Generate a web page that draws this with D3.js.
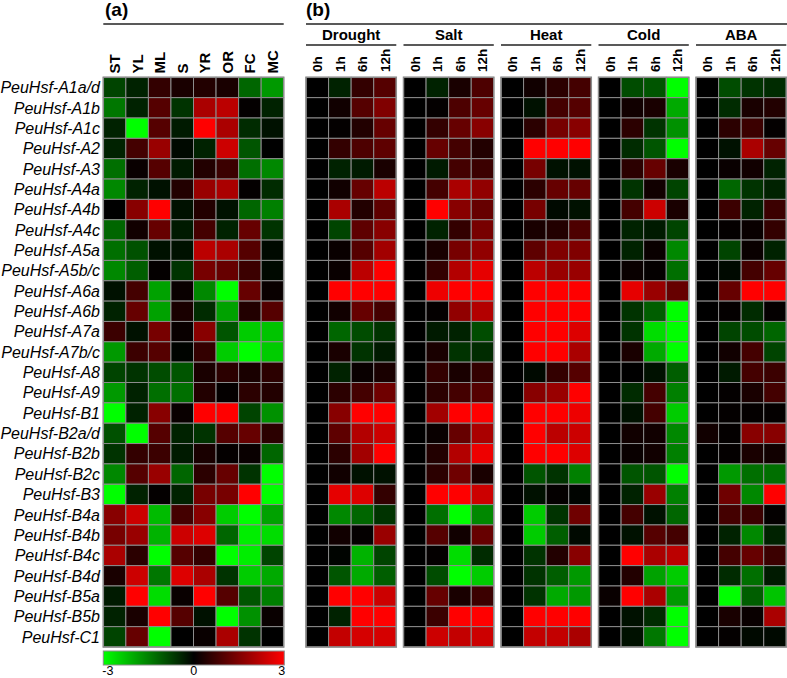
<!DOCTYPE html>
<html>
<head>
<meta charset="utf-8">
<script src="https://cdn.jsdelivr.net/npm/d3@7"></script>
<style>
  html, body { margin: 0; padding: 0; background: #fff; }
  svg { display: block; font-family: "Liberation Sans", Arial, sans-serif; }
</style>
</head>
<body>
<svg id="chart" width="787" height="678"></svg>
<script>
// ---------- DATA ----------
const genes = ["PeuHsf-A1a/d","PeuHsf-A1b","PeuHsf-A1c","PeuHsf-A2","PeuHsf-A3","PeuHsf-A4a","PeuHsf-A4b",
  "PeuHsf-A4c","PeuHsf-A5a","PeuHsf-A5b/c","PeuHsf-A6a","PeuHsf-A6b","PeuHsf-A7a","PeuHsf-A7b/c",
  "PeuHsf-A8","PeuHsf-A9","PeuHsf-B1","PeuHsf-B2a/d","PeuHsf-B2b","PeuHsf-B2c","PeuHsf-B3",
  "PeuHsf-B4a","PeuHsf-B4b","PeuHsf-B4c","PeuHsf-B4d","PeuHsf-B5a","PeuHsf-B5b","PeuHsf-C1"];

const tissues = ["ST","YL","ML","S","YR","OR","FC","MC"];

// panel (a): tissue expression, one row per gene (log2 scale, -3..3)
const tissueValues = [
  [-0.8,-0.4, 0.6, 0.3, 0.4, 0.3,-1.2,-1.8],
  [-1.4,-0.4, 1.0,-0.6, 2.0, 2.2, 0.05,-0.4],
  [-0.4,-3.0, 1.0,-0.3, 3.0, 2.0,-0.5,-0.2],
  [-0.4, 0.8, 1.8,-0.1,-0.4, 2.4,-1.0, 0.0],
  [-1.3, 0.1, 1.0,-0.3, 0.4, 0.7,-1.3,-1.6],
  [-1.6,-0.4,-0.2, 0.4, 1.8, 2.0, 0.05,-0.5],
  [ 0.0, 1.6, 3.0,-0.2, 0.4,-0.2,-1.2,-1.5],
  [-1.2, 0.2, 1.2,-0.3, 0.8,-0.4, 1.2,-0.6],
  [-1.3,-0.95,-0.2,-0.2, 2.2, 2.0, 1.0,-0.1],
  [-1.6,-1.1, 0.05,-0.6, 1.4, 1.2, 0.7,-0.1],
  [-0.2, 0.8,-1.9, 0.1,-1.6,-3.0, 1.2, 0.1],
  [-0.4, 1.2,-1.9, 0.3,-0.5,-1.9, 0.4, 1.0],
  [ 0.7,-0.2, 1.4, 0.1, 1.6,-1.0,-2.4,-2.3],
  [-1.8, 0.7, 1.0,-0.05, 0.6,-2.4,-3.0,-2.4],
  [-0.8,-0.6,-0.9,-1.0, 0.3, 0.5, 0.3, 0.5],
  [-1.8,-0.4,-1.3,-1.3, 0.4, 0.05, 0.5, 0.4],
  [-3.0,-0.4, 1.6, 0.1, 3.0, 3.0,-0.8,-1.7],
  [-0.95,-3.0, 1.0,-0.4,-0.6, 1.0, 1.2, 0.5],
  [-0.6, 0.6, 0.7,-0.3, 0.3, 0.05, 0.1,-1.2],
  [-1.6, 1.0, 1.8,-1.2, 0.5, 1.2,-0.6,-3.0],
  [-3.0,-0.4, 0.05,-0.4, 1.4, 1.4, 3.0,-3.0],
  [ 1.6, 2.4,-2.2, 0.8, 1.6,-2.4,-3.0,-1.9],
  [ 1.4, 1.8,-2.1, 2.4, 2.6,-1.2,-2.8,-2.6],
  [ 2.0, 0.5,-3.0, 1.0, 0.6,-3.0,-2.8,-0.8],
  [ 0.3, 2.4,-1.4, 2.6, 2.0,-0.6,-2.4,-2.0],
  [-0.3, 3.0,-2.6, 0.1, 3.0, 1.0,-1.0,-1.5],
  [-0.4, 0.3, 3.0, 1.0,-0.2,-3.0,-1.7, 0.1],
  [-0.8, 1.2,-3.0, 0.0, 0.1, 2.0,-0.6, 0.0]
];

const stresses = ["Drought","Salt","Heat","Cold","ABA"];
const timePoints = ["0h","1h","6h","12h"];

// panel (b): one array per stress, each row = gene, columns = 0h,1h,6h,12h
const drought = [
  [0,-0.4,0.6,1.0],[0,0.2,1.0,1.5],[0,0.05,0.4,1.2],[0,0.6,0.9,1.1],[0,-0.4,-0.3,0.3],
  [0,0.2,1.2,2.2],[0,2.0,0.4,1.1],[0,-0.8,1.1,1.6],[0,0.1,1.0,1.9],[0,0.1,2.2,3.0],
  [0,3.0,3.0,3.0],[0,0.2,1.2,0.8],[0,-1.2,-0.9,-0.6],[0,0.3,-0.6,-0.3],
  [0,-0.4,0.1,0.3],[0,0.5,0.8,1.3],[0,1.6,3.0,3.0],[0,1.1,2.1,2.4],[0,0.5,1.9,3.0],
  [0,0.2,-0.2,-0.2],[0,2.7,2.6,0.6],[0,-1.6,-1.2,-0.6],[0,0.2,0.05,1.8],[0,-0.05,-2.1,-0.8],
  [0,-1.0,-2.0,-1.1],[0,3.0,3.0,2.4],[0,-0.4,3.0,3.0],[0,2.3,2.5,2.5]
];
const salt = [
  [0,-0.4,0.3,0.9],[0,0.05,0.9,1.2],[0,0.6,1.2,1.6],[0,1.2,0.8,0.4],[0,-0.3,0.8,0.7],
  [0,0.8,2.0,1.7],[0,3.0,1.6,1.2],[0,-0.4,0.6,1.4],[0,0.3,1.4,1.7],[0,0.6,2.1,2.7],
  [0,2.8,3.0,3.0],[0,0.05,1.7,2.1],[0,-0.3,-0.4,-0.9],[0,0.3,-0.6,-0.5],
  [0,0.6,0.3,0.6],[0,0.5,0.8,1.0],[0,1.9,3.0,3.0],[0,0.1,1.2,2.0],[0,0.4,2.1,2.8],
  [0,0.5,1.3,0.3],[0,3.0,3.0,2.4],[0,-1.3,-3.0,-1.6],[0,1.0,0.2,1.2],[0,0.05,-2.6,-0.5],
  [0,-0.9,-3.0,-2.4],[0,1.2,0.3,0.7],[0,0.7,3.0,3.0],[0,2.4,2.3,2.4]
];
const heat = [
  [0,0.2,0.5,0.8],[0,-0.2,0.8,1.0],[0,0.5,1.4,1.6],[0,3.0,3.0,3.0],[0,1.4,-0.2,-0.2],
  [0,0.5,1.2,1.2],[0,1.4,-0.1,-0.2],[0,0.3,0.4,0.9],[0,1.1,1.5,1.5],[0,2.2,1.8,1.8],
  [0,3.0,3.0,3.0],[0,3.0,3.0,3.0],[0,3.0,3.0,2.6],[0,3.0,3.0,2.0],
  [0,-0.1,0.6,1.0],[0,1.6,1.8,3.0],[0,3.0,3.0,2.8],[0,3.0,2.2,2.4],[0,3.0,3.0,2.6],
  [0,-1.0,-0.6,-1.5],[0,-0.2,0.05,-0.05],[0,-2.4,-0.6,1.3],[0,-2.4,-1.1,-0.1],[0,-0.6,0.4,1.6],
  [0,-0.6,-1.1,-1.8],[0,-0.6,-2.0,-1.8],[0,3.0,3.0,3.0],[0,2.3,2.3,2.0]
];
const cold = [
  [0,-0.9,-1.0,-3.0],[0,0.2,0.3,-2.0],[0,0.5,-0.6,-1.7],[0,-0.5,-1.0,-3.0],[0,0.5,1.2,0.3],
  [0,-0.6,0.2,-0.8],[0,0.8,2.4,0.3],[0,-0.4,-0.3,-0.8],[0,-0.4,0.1,-1.6],[0,0.1,0.05,-1.3],
  [0,2.7,1.8,1.2],[0,-0.6,-1.1,-3.0],[0,-0.6,-2.6,-3.0],[0,0.3,-2.0,-3.0],
  [0,0.0,-0.2,-1.1],[0,-0.5,0.8,-1.5],[0,-0.2,0.8,-2.4],[0,0.2,0.2,-1.6],[0,0.1,0.2,-1.5],
  [0,-1.0,-1.0,-3.0],[0,-0.4,1.8,-1.5],[0,0.8,-0.2,-1.2],[0,-0.2,1.0,0.8],[0,3.0,2.0,2.2],
  [0,0.4,-1.9,-2.4],[0.1,3.0,2.0,-1.8],[0,-0.2,-0.5,-3.0],[0,-0.2,-1.4,-3.0]
];
const aba = [
  [0,-0.9,-0.6,-0.5],[0,-0.5,0.3,0.4],[0,0.5,0.7,0.05],[0,-0.2,2.0,1.2],[0,0.1,0.2,-0.4],
  [0,-1.2,-0.6,-0.4],[0,0.7,-0.4,0.7],[0,0.05,0.1,0.6],[0,-0.8,0.1,-0.4],[0,-0.1,0.8,1.2],
  [0,1.2,3.0,3.0],[0,0.05,-0.5,0.05],[0,-0.8,-0.9,-1.2],[0,0.2,0.8,-0.8],
  [0,-0.3,0.8,0.7],[0,0.05,0.3,0.8],[0,0.05,0.05,0.05],[0.2,0.05,1.6,1.6],[0,0.05,0.3,0.2],
  [0,-1.8,-1.3,-1.3],[0,1.3,-1.6,3.0],[0,0.8,0.7,0.05],[0,-0.4,-1.6,-0.4],[0,0.8,1.2,0.7],
  [0,-0.5,-1.3,-0.3],[0,-3.0,-1.1,-2.3],[0,0.3,0.1,2.0],[0,0.05,-0.1,-0.1]
];
const stressValues = [drought, salt, heat, cold, aba];

const legendTicks = [-3, 0, 3];

// ---------- CHART ----------
const svg = d3.select("#chart");
const FONT = "'Liberation Sans', Arial, sans-serif";
const GRID = "#8c8c8c";

const color = d3.scaleLinear().domain([-3, 0, 3])
  .range(["#00ff00", "#000000", "#ff0000"]).clamp(true);

const y = d3.scaleBand().domain(genes).range([77.3, 647]).paddingInner(0);

// Panel (a)
const xa = d3.scaleBand().domain(tissues).range([103.3, 283.7]).paddingInner(0);

// Row labels
svg.append("g").selectAll("text").data(genes).join("text")
  .attr("x", 100)
  .attr("y", d => y(d) + y.bandwidth() / 2)
  .attr("dy", "0.36em")
  .attr("text-anchor", "end")
  .attr("font-family", FONT)
  .attr("font-style", "italic")
  .attr("font-size", 16)
  .text(d => d);

const ga = svg.append("g");
tissueValues.forEach((row, i) => {
  ga.selectAll(null).data(row).join("rect")
    .attr("x", (d, j) => xa(tissues[j]))
    .attr("y", y(genes[i]))
    .attr("width", xa.bandwidth())
    .attr("height", y.bandwidth())
    .attr("fill", d => color(d))
    .attr("stroke", GRID)
    .attr("stroke-width", 1);
});
ga.append("rect")
  .attr("x", xa.range()[0]).attr("y", y.range()[0])
  .attr("width", xa.range()[1] - xa.range()[0])
  .attr("height", y.range()[1] - y.range()[0])
  .attr("fill", "none").attr("stroke", GRID).attr("stroke-width", 1.5);

// Tissue labels
svg.append("g").selectAll("text").data(tissues).join("text")
  .attr("transform", d => `translate(${xa(d) + xa.bandwidth() / 2},73.5) rotate(-90)`)
  .attr("dy", "0.36em")
  .attr("font-family", FONT)
  .attr("font-weight", "bold")
  .attr("font-size", 15)
  .text(d => d);

// Panel titles
svg.append("text").attr("x", 105).attr("y", 16)
  .attr("font-family", FONT).attr("font-weight", "bold").attr("font-size", 19)
  .text("(a)");
svg.append("line").attr("x1", 103.3).attr("x2", 283.7).attr("y1", 24).attr("y2", 24)
  .attr("stroke", "#222").attr("stroke-width", 1.5);

svg.append("text").attr("x", 306).attr("y", 16)
  .attr("font-family", FONT).attr("font-weight", "bold").attr("font-size", 19)
  .text("(b)");
svg.append("line").attr("x1", 306).attr("x2", 787).attr("y1", 24).attr("y2", 24)
  .attr("stroke", "#222").attr("stroke-width", 1.5);

// Panel (b)
const xg = d3.scaleBand().domain(stresses).range([306, 786.3])
  .paddingInner(0.074).paddingOuter(0);
const xt = d3.scaleBand().domain(timePoints).range([0, xg.bandwidth()]).paddingInner(0);

stresses.forEach((s, k) => {
  const g = svg.append("g").attr("transform", `translate(${xg(s)},0)`);
  // group label
  g.append("text")
    .attr("x", xg.bandwidth() / 2).attr("y", 40)
    .attr("text-anchor", "middle")
    .attr("font-family", FONT).attr("font-weight", "bold").attr("font-size", 15)
    .text(s);
  g.append("line").attr("x1", 0).attr("x2", xg.bandwidth())
    .attr("y1", 45).attr("y2", 45)
    .attr("stroke", "#222").attr("stroke-width", 1.5);
  // time labels
  g.selectAll("text.t").data(timePoints).join("text")
    .attr("class", "t")
    .attr("transform", d => `translate(${xt(d) + xt.bandwidth() / 2},72) rotate(-90)`)
    .attr("dy", "0.36em")
    .attr("font-family", FONT).attr("font-weight", "bold").attr("font-size", 13.5)
    .text(d => d);
  // cells
  stressValues[k].forEach((row, i) => {
    g.selectAll(null).data(row).join("rect")
      .attr("x", (d, j) => xt(timePoints[j]))
      .attr("y", y(genes[i]))
      .attr("width", xt.bandwidth())
      .attr("height", y.bandwidth())
      .attr("fill", d => color(d))
      .attr("stroke", GRID)
      .attr("stroke-width", 1);
  });
  g.append("rect")
    .attr("x", 0).attr("y", y.range()[0])
    .attr("width", xg.bandwidth())
    .attr("height", y.range()[1] - y.range()[0])
    .attr("fill", "none").attr("stroke", GRID).attr("stroke-width", 1.5);
});

// Legend colour bar
const defs = svg.append("defs");
const grad = defs.append("linearGradient").attr("id", "lg")
  .attr("x1", "0%").attr("x2", "100%").attr("y1", "0%").attr("y2", "0%");
grad.selectAll("stop").data(d3.range(-3, 3.01, 0.5)).join("stop")
  .attr("offset", d => ((d + 3) / 6 * 100) + "%")
  .attr("stop-color", d => color(d));

const xl = d3.scaleLinear().domain([-3, 3]).range([103.3, 284.3]);
svg.append("rect")
  .attr("x", xl(-3)).attr("y", 651)
  .attr("width", xl(3) - xl(-3)).attr("height", 14)
  .attr("fill", "url(#lg)").attr("stroke", GRID).attr("stroke-width", 1);

svg.append("g").selectAll("text").data(legendTicks).join("text")
  .attr("x", d => xl(d) + (d === -3 ? -1 : d === 3 ? 1 : 0))
  .attr("y", 675)
  .attr("text-anchor", d => d === -3 ? "start" : d === 3 ? "end" : "middle")
  .attr("font-family", FONT).attr("font-size", 12.5)
  .text(d => d);
</script>
</body>
</html>
